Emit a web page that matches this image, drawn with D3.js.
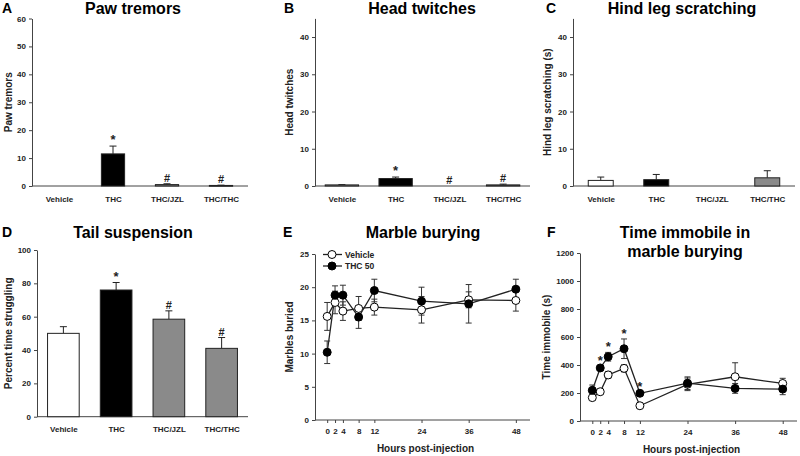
<!DOCTYPE html>
<html><head><meta charset="utf-8">
<script src="https://cdn.jsdelivr.net/npm/d3@7"></script>
<style>
body{margin:0;background:#fff;}
svg{display:block;font-family:"Liberation Sans",Arial,sans-serif;font-weight:bold;}
</style></head>
<body><svg id="chart" width="800" height="456"></svg>
<script>
// ---------- DATA ----------
const barCategories = ["Vehicle", "THC", "THC/JZL", "THC/THC"];
const barColors = ["#ffffff", "#000000", "#8a8a8a", "#8a8a8a"];

const pawMean = [0, 11.5, 0.5, 0.2];
const pawSem = [0, 2.8, 0.3, 0.1];
const pawSig = ["", "*", "#", "#"];

const headMean = [0.3, 2.0, 0, 0.3];
const headSem = [0.1, 0.4, 0, 0.2];
const headSig = ["", "*", "#", "#"];

const scratchMean = [1.5, 1.7, 0, 2.2];
const scratchSem = [0.9, 1.4, 0, 1.9];
const scratchSig = ["", "", "", ""];

const tailMean = [50, 76, 58.5, 41];
const tailSem = [4, 4.5, 5, 6.5];
const tailSig = ["", "*", "#", "#"];

const hours = [0, 2, 4, 8, 12, 24, 36, 48];
const marbleVehMean = [15.6, 17.7, 16.4, 16.8, 17.0, 16.6, 18.1, 18.0];
const marbleVehSem = [2.1, 1.7, 1.4, 1.8, 1.2, 2.0, 1.2, 1.6];
const marbleThcMean = [10.2, 18.8, 18.8, 15.5, 19.5, 17.9, 17.5, 19.7];
const marbleThcSem = [1.7, 1.4, 1.5, 1.7, 1.7, 2.1, 2.9, 1.5];

const immVehMean = [167, 209, 329, 376, 109, 262, 316, 268];
const immVehSem = [15, 15, 25, 25, 10, 45, 100, 37];
const immThcMean = [219, 379, 459, 516, 198, 270, 233, 228];
const immThcSem = [38, 15, 31, 70, 12, 45, 35, 40];
const immThcSig = ["", "*", "*", "*", "*", "", "", ""];

const seriesNames = ["Vehicle", "THC 50"];

// ---------- DRAWING ----------
const svg = d3.select("#chart");
const ink = "#222";

function yAxisLabel(g, text, x, yCenter) {
  g.append("text").attr("transform", `translate(${x},${yCenter}) rotate(-90)`)
    .attr("text-anchor", "middle").attr("dominant-baseline", "central")
    .attr("font-size", 10).attr("fill", ink).text(text);
}
function title(lines, cx, baseline) {
  lines.forEach((t, i) => svg.append("text").attr("x", cx).attr("y", baseline + i * 19)
    .attr("text-anchor", "middle").attr("font-size", 16).attr("fill", "#000").text(t));
}
function letter(t, x, y) {
  svg.append("text").attr("x", x).attr("y", y).attr("font-size", 14).attr("fill", "#000").text(t);
}
function styleAxis(g) {
  g.selectAll("path").attr("stroke", "#444").attr("stroke-width", 1);
  g.selectAll("line").attr("stroke", "#444");
  g.selectAll("text").attr("font-size", 8).attr("fill", ink).attr("font-family", "Liberation Sans, Arial, sans-serif").attr("font-weight", "bold");
}

function barPanel(o) {
  const g = svg.append("g");
  const x = d3.scalePoint().domain(barCategories).range([o.x0, o.x1]).padding(0.5);
  const y = d3.scaleLinear().domain([0, o.ymax]).range([o.y0, o.y1]);
  const bw = x.step() * o.bw;
  const ya = g.append("g").attr("transform", `translate(${o.x0},0)`)
    .call(d3.axisLeft(y).tickValues(o.ticks).tickFormat(d3.format("d")).tickSize(3).tickSizeOuter(0).tickPadding(3));
  styleAxis(ya);
  const xa = g.append("g").attr("transform", `translate(0,${o.y0})`)
    .call(d3.axisBottom(x).tickSize(0).tickSizeOuter(0).tickPadding(10));
  styleAxis(xa);
  xa.select("path").attr("d", `M${o.x0},0H${o.x1}`);
  barCategories.forEach((c, i) => {
    const m = o.mean[i], s = o.sem[i];
    if (m > 0) {
      g.append("line").attr("x1", x(c)).attr("x2", x(c)).attr("y1", y(m)).attr("y2", y(m + s))
        .attr("stroke", ink).attr("stroke-width", 1);
      g.append("line").attr("x1", x(c) - 3.5).attr("x2", x(c) + 3.5).attr("y1", y(m + s)).attr("y2", y(m + s))
        .attr("stroke", ink).attr("stroke-width", 1);
      g.append("rect").attr("x", x(c) - bw / 2).attr("width", bw)
        .attr("y", y(m)).attr("height", Math.max(y(0) - y(m), 0.8))
        .attr("fill", barColors[i]).attr("stroke", ink).attr("stroke-width", 1);
    }
    if (o.sig[i]) {
      g.append("text").attr("x", x(c)).attr("y", y(m + s) - 2).attr("text-anchor", "middle")
        .attr("font-size", o.sig[i] === "*" ? 13 : 11).attr("fill", ink).text(o.sig[i]);
    }
  });
  yAxisLabel(g, o.ylabel, o.ylx, (o.y0 + o.y1) / 2);
}

barPanel({x0: 32, x1: 248, y0: 186, y1: 18.5, ymax: 60, ticks: [0,10,20,30,40,50,60], bw: 0.43,
  mean: pawMean, sem: pawSem, sig: pawSig, ylabel: "Paw tremors", ylx: 8});
barPanel({x0: 315, x1: 530, y0: 186, y1: 18.4, ymax: 45, ticks: [0,10,20,30,40], bw: 0.62,
  mean: headMean, sem: headSem, sig: headSig, ylabel: "Head twitches", ylx: 289});
barPanel({x0: 573, x1: 795, y0: 186, y1: 18.4, ymax: 45, ticks: [0,10,20,30,40], bw: 0.45,
  mean: scratchMean, sem: scratchSem, sig: scratchSig, ylabel: "Hind leg scratching (s)", ylx: 547});
barPanel({x0: 37, x1: 248, y0: 416.7, y1: 250, ymax: 100, ticks: [0,20,40,60,80,100], bw: 0.6,
  mean: tailMean, sem: tailSem, sig: tailSig, ylabel: "Percent time struggling", ylx: 8});

function linePanel(o) {
  const g = svg.append("g");
  const x = d3.scaleLinear().domain([-3.1, 51.6]).range([o.x0, o.x1]);
  const y = d3.scaleLinear().domain([0, o.ymax]).range([o.y0, o.y1]);
  const ya = g.append("g").attr("transform", `translate(${o.x0},0)`)
    .call(d3.axisLeft(y).tickValues(o.ticks).tickFormat(d3.format("d")).tickSize(3).tickSizeOuter(0).tickPadding(3));
  styleAxis(ya);
  const xa = g.append("g").attr("transform", `translate(0,${o.y0})`)
    .call(d3.axisBottom(x).tickValues(hours).tickFormat(d3.format("d")).tickSize(3).tickSizeOuter(0).tickPadding(5));
  styleAxis(xa);
  xa.select("path").attr("d", `M${o.x0},0H${o.x1}`);
  const series = [
    {mean: o.vm, sem: o.vs, fill: "#fff"},
    {mean: o.tm, sem: o.ts, fill: "#000"}
  ];
  const line = d3.line().x((d, i) => x(hours[i])).y(d => y(d));
  series.forEach(s => {
    g.append("path").datum(s.mean).attr("d", line).attr("fill", "none").attr("stroke", ink).attr("stroke-width", 1.3);
  });
  series.forEach(s => {
    hours.forEach((h, i) => {
      const lo = y(s.mean[i] - s.sem[i]), hi = y(s.mean[i] + s.sem[i]);
      g.append("line").attr("x1", x(h)).attr("x2", x(h)).attr("y1", lo).attr("y2", hi).attr("stroke", "#333");
      [lo, hi].forEach(v => g.append("line").attr("x1", x(h) - 3).attr("x2", x(h) + 3).attr("y1", v).attr("y2", v).attr("stroke", "#333"));
    });
  });
  series.forEach(s => {
    hours.forEach((h, i) => {
      g.append("circle").attr("cx", x(h)).attr("cy", y(s.mean[i])).attr("r", 4)
        .attr("fill", s.fill).attr("stroke", "#000").attr("stroke-width", 1);
    });
  });
  if (o.sig) {
    hours.forEach((h, i) => {
      if (o.sig[i]) g.append("text").attr("x", x(h)).attr("y", y(o.tm[i] + o.ts[i]) - 1)
        .attr("text-anchor", "middle").attr("font-size", 13).attr("fill", ink).text(o.sig[i]);
    });
  }
  yAxisLabel(g, o.ylabel, o.ylx, (o.y0 + o.y1) / 2);
  g.append("text").attr("x", (o.x0 + o.x1) / 2 + 3).attr("y", o.y0 + 32).attr("text-anchor", "middle")
    .attr("font-size", 10).attr("fill", ink).text("Hours post-injection");
  if (o.legend) {
    const fills = ["#fff", "#000"];
    seriesNames.forEach((n, i) => {
      const ly = o.y1 + 0.5 + i * 11.5;
      const lg = g.append("g");
      lg.append("line").attr("x1", o.x0 + 8).attr("x2", o.x0 + 27).attr("y1", ly).attr("y2", ly).attr("stroke", ink).attr("stroke-width", 1.3);
      lg.append("circle").attr("cx", o.x0 + 17).attr("cy", ly).attr("r", 4).attr("fill", fills[i]).attr("stroke", "#000");
      lg.append("text").attr("x", o.x0 + 30).attr("y", ly).attr("dominant-baseline", "central")
        .attr("font-size", 8.5).attr("fill", ink).text(n);
    });
  }
}

linePanel({x0: 315, x1: 530, y0: 420, y1: 254, ymax: 25, ticks: [0,5,10,15,20,25],
  vm: marbleVehMean, vs: marbleVehSem, tm: marbleThcMean, ts: marbleThcSem,
  ylabel: "Marbles buried", ylx: 289, legend: true});
linePanel({x0: 580, x1: 797, y0: 421, y1: 253, ymax: 1200, ticks: [0,200,400,600,800,1000,1200],
  vm: immVehMean, vs: immVehSem, tm: immThcMean, ts: immThcSem, sig: immThcSig,
  ylabel: "Time immobile (s)", ylx: 546});

// titles and panel letters
title(["Paw tremors"], 133, 14);
title(["Head twitches"], 422, 14);
title(["Hind leg scratching"], 682, 14);
title(["Tail suspension"], 133, 238);
title(["Marble burying"], 423, 238);
title(["Time immobile in", "marble burying"], 685, 238);
letter("A", 2, 13); letter("B", 284, 13); letter("C", 546, 13);
letter("D", 2, 237); letter("E", 283, 237); letter("F", 547, 237);
</script></body></html>
